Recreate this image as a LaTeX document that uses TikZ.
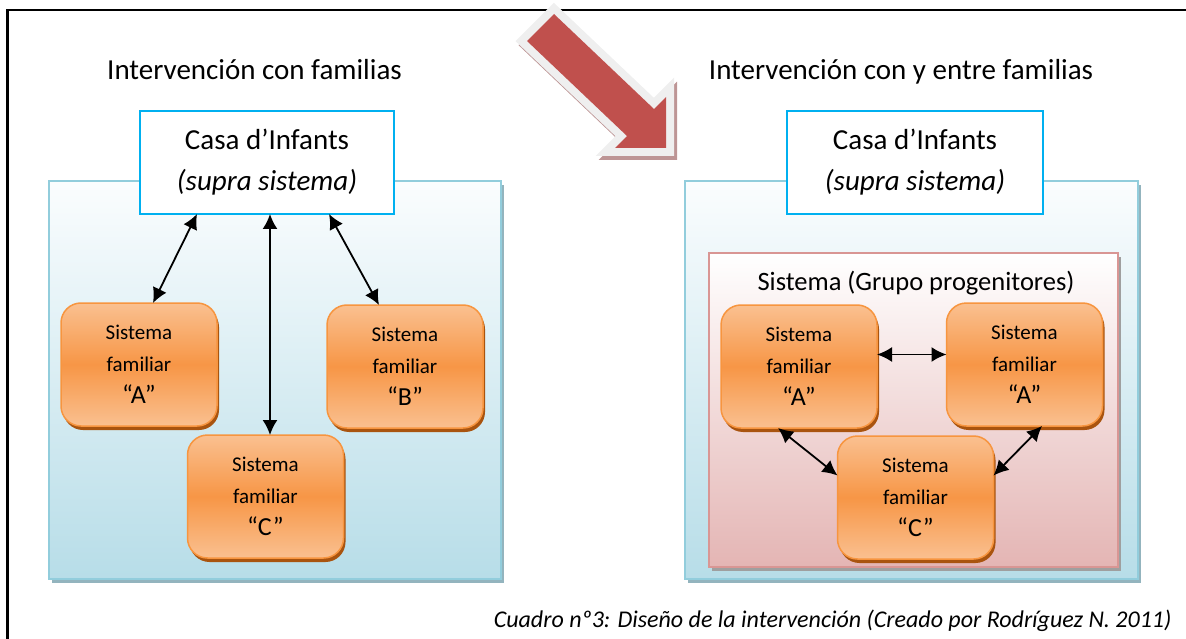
\documentclass[tikz,border=0pt]{standalone}
\usepackage{fontspec}
\setmainfont{Carlito}
\usetikzlibrary{shadows,arrows.meta}
\definecolor{casablue}{HTML}{00B0F0}
\definecolor{bigborder}{HTML}{92CDDC}
\definecolor{bigtop}{HTML}{FBFDFE}
\definecolor{bigbot}{HTML}{B7DDE8}
\definecolor{bigshadow}{HTML}{93B4BE}
\definecolor{pinkborder}{HTML}{D99694}
\definecolor{pinkbot}{HTML}{E4B5B4}
\definecolor{orlight}{HTML}{FAC090}
\definecolor{ormid}{HTML}{F79646}
\definecolor{orborder}{HTML}{F7953F}
\definecolor{orshadow}{HTML}{A9540F}
\definecolor{redarrow}{HTML}{C0504D}
\definecolor{redoutline}{HTML}{EFEFEF}
\definecolor{redshadow}{HTML}{BD9595}
\newcommand{\bigq}[1]{{\fontsize{26}{33}\selectfont #1}}
\begin{document}
\begin{tikzpicture}[x=1pt,y=-1pt,
  bigbox/.style={rectangle, draw=bigborder, line width=2pt, top color=bigtop, bottom color=bigbot,
    inner sep=0pt, outer sep=0pt,
    general shadow={shadow xshift=3pt, shadow yshift=-4pt, fill=bigshadow}},
  pinkbox/.style={rectangle, draw=pinkborder, line width=2pt, top color=white, bottom color=pinkbot,
    inner sep=0pt, outer sep=0pt,
    general shadow={shadow xshift=3pt, shadow yshift=-4pt, fill=gray!75}},
  casabox/.style={rectangle, draw=casablue, line width=2pt, fill=white, inner sep=0pt, outer sep=0pt,
    minimum height=103pt, align=center, font=\fontsize{29}{41}\selectfont},
  famboxstyle/.style={rectangle, rounded corners=20pt, draw=orborder, line width=1.5pt,
    top color=orlight, bottom color=orlight, middle color=ormid,
    minimum width=156pt, minimum height=123pt, inner sep=0pt, outer sep=0pt,
    align=center, font=\fontsize{21}{32}\selectfont,
    general shadow={shadow xshift=2pt, shadow yshift=-4pt, fill=orshadow}},
  titletext/.style={anchor=base, font=\fontsize{29}{34}\selectfont},
  dbl/.style={{Latex[length=15pt,width=15pt]}-{Latex[length=15pt,width=15pt]}, line width=1.8pt}
]
\useasboundingbox (0,0) rectangle (1186,639);

% outer frame
\draw[line width=2.5pt] (7.5,639) -- (7.5,10) -- (1186,10);

% left side
\node[bigbox, minimum width=452pt, minimum height=398pt] (bigL) at (275,380) {};
\node[casabox, minimum width=254pt] (casaL) at (267,162.5) {Casa d’Infants\\\textit{(supra sistema)}};
\node[famboxstyle] (aL) at (139,364.5) {Sistema\\familiar\\\bigq{“A”}};
\node[famboxstyle] (bL) at (405,366.5) {Sistema\\familiar\\\bigq{“B”}};
\node[famboxstyle] (cL) at (265.5,496.5) {Sistema\\familiar\\\bigq{“C”}};
\draw[dbl] ([xshift=-70pt]casaL.south) -- ([xshift=14pt]aL.north);
\draw[dbl] ([xshift=3pt]casaL.south) -- ([xshift=3pt]casaL.south |- cL.north);
\draw[dbl] ([xshift=62pt]casaL.south) -- ([xshift=-26pt]bL.north);
\node[titletext] (titleL) at (254.5,80) {Intervención con familias};

% right side
\node[bigbox, minimum width=453pt, minimum height=398pt] (bigR) at (911.5,380) {};
\node[pinkbox, minimum width=409pt, minimum height=314pt] (pink) at (913.5,410) {};
\node[anchor=base, font=\fontsize{26.5}{30}\selectfont] (grupo) at (916,290) {Sistema (Grupo progenitores)};
\node[casabox, minimum width=256pt] (casaR) at (915,162.5) {Casa d’Infants\\\textit{(supra sistema)}};
\node[famboxstyle] (a1) at (799,366.5) {Sistema\\familiar\\\bigq{“A”}};
\node[famboxstyle] (a2) at (1024.5,364.5) {Sistema\\familiar\\\bigq{“A”}};
\node[famboxstyle] (c2) at (915.5,497.5) {Sistema\\familiar\\\bigq{“C”}};
\draw[dbl] ([yshift=12pt]a1.east) -- ([yshift=12pt]a1.east -| a2.west);
\draw[dbl] ([xshift=-21pt]a1.south) -- ([yshift=22pt]c2.west);
\draw[dbl] ([xshift=17.5pt]a2.south) -- ([yshift=22pt]c2.east);
\node[titletext] (titleR) at (901,80) {Intervención con y entre familias};

% caption
\node[anchor=base east, font=\fontsize{24}{28}\selectfont\itshape] (caption) at (1175,627)
  {Cuadro nº3: Diseño de la intervención (Creado por Rodríguez N. 2011)};

% red block arrow
\begin{scope}[shift={(3,4)}]
  \draw[redshadow, line width=16pt, line join=miter, fill=redshadow] (554,14) -- (654,109) -- (666,97) -- (666,148) -- (615,148) -- (627,136) -- (527,41) -- cycle;
\end{scope}
\draw[redoutline, line width=16pt, line join=miter, fill=redoutline] (554,14) -- (654,109) -- (666,97) -- (666,148) -- (615,148) -- (627,136) -- (527,41) -- cycle;
\fill[redarrow] (554,14) -- (654,109) -- (666,97) -- (666,148) -- (615,148) -- (627,136) -- (527,41) -- cycle;
\end{tikzpicture}
\end{document}
